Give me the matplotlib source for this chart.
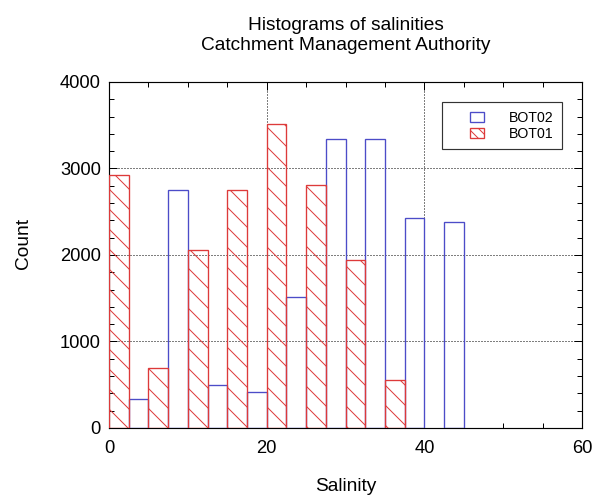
import matplotlib
matplotlib.use("Agg")
import matplotlib.pyplot as plt
from matplotlib.patches import Rectangle
from matplotlib.legend_handler import HandlerPatch
from matplotlib.ticker import MultipleLocator

# histogram bins (left edges, width 2.5) and counts
bot01_left = [0, 5, 10, 15, 20, 25, 30, 35]
bot01_count = [2920, 690, 2060, 2750, 3510, 2810, 1945, 550]
bot02_left = [2.5, 7.5, 12.5, 17.5, 22.5, 27.5, 32.5, 37.5, 42.5]
bot02_count = [330, 2750, 500, 420, 1510, 3335, 3335, 2430, 2380]
bin_width = 2.5

red = "#dd3a3a"
blue = "#4c4cc8"

plt.rcParams["font.family"] = ["Liberation Sans", "DejaVu Sans"]
plt.rcParams["hatch.linewidth"] = 0.6

dpi = 120
fig = plt.figure(figsize=(606 / dpi, 495 / dpi), dpi=dpi)
ax = fig.add_axes([0.18, 0.1354, 0.7805, 0.699])

ax.grid(True, which="major", color="black", linestyle=(0, (1, 2)), linewidth=0.6)
ax.set_axisbelow(True)

ax.bar(bot02_left, bot02_count, width=bin_width, align="edge",
       facecolor="none", edgecolor=blue, linewidth=0.8, zorder=3)
ax.bar(bot01_left, bot01_count, width=bin_width, align="edge",
       facecolor="none", edgecolor=red, hatch="\\\\", linewidth=0.8, zorder=3)

ax.set_xlim(0, 60)
ax.set_ylim(0, 4000)
ax.xaxis.set_major_locator(MultipleLocator(20))
ax.xaxis.set_minor_locator(MultipleLocator(5))
ax.yaxis.set_major_locator(MultipleLocator(1000))
ax.yaxis.set_minor_locator(MultipleLocator(200))
ax.tick_params(which="both", direction="in", top=True, right=True, width=0.6)
ax.tick_params(which="major", length=5, labelsize=11)
ax.tick_params(axis="x", which="major", pad=7)
ax.tick_params(axis="y", which="major", pad=5)
ax.tick_params(which="minor", length=3)
for s in ax.spines.values():
    s.set_linewidth(0.7)

ax.set_xlabel("Salinity", fontsize=11.5)
ax.set_ylabel("Count", fontsize=11.5)
ax.xaxis.set_label_coords(0.501, -0.1445)
ax.yaxis.set_label_coords(-0.163, 0.532)

ax.set_title("Histograms of salinities\nCatchment Management Authority",
             fontsize=11.5, linespacing=1.25, pad=19)


def small_box(legend, orig_handle, xdescent, ydescent, width, height, fontsize):
    w = fontsize * 1.0
    return Rectangle((width - w - xdescent, -ydescent), w, height)


h02 = Rectangle((0, 0), 1, 1, facecolor="none", edgecolor=blue, linewidth=0.8)
h01 = Rectangle((0, 0), 1, 1, facecolor="none", edgecolor=red, linewidth=0.8, hatch="\\\\\\\\")
leg = ax.legend([h02, h01], ["BOT02", "BOT01"], loc="upper right",
                bbox_to_anchor=(0.958, 0.942), borderaxespad=0,
                fontsize=8.5, frameon=True, fancybox=False, framealpha=1,
                edgecolor="#333333", handlelength=2.4, handleheight=0.7,
                handletextpad=1.75, borderpad=0.6, labelspacing=0.15,
                handler_map={Rectangle: HandlerPatch(patch_func=small_box)})
leg.get_frame().set_linewidth(0.7)

fig.savefig("out.png", dpi=dpi)
